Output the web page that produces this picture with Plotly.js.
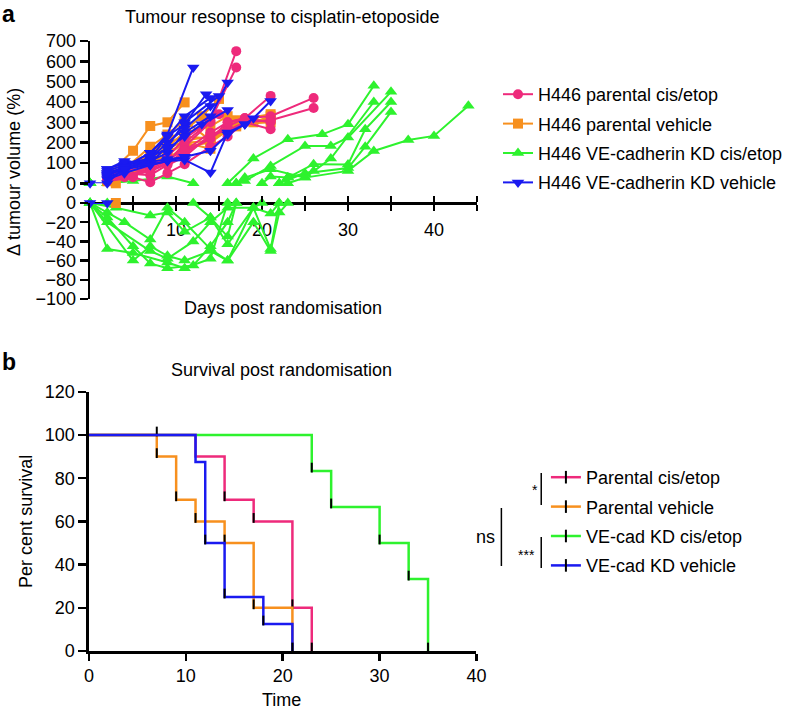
<!DOCTYPE html>
<html>
<head>
<meta charset="utf-8">
<script src="https://cdn.plot.ly/plotly-3.0.1.min.js"></script>
<style>
html, body { margin:0; padding:0; background:#ffffff; }
#chart { width:788px; height:710px; }
</style>
</head>
<body>
<div id="chart"></div>
<script>

/* ==========================================
   DATA - PANEL A (change in tumour volume, % per animal)
========================================== */

const parCisDays = [
    [2,4,7,9,11,14,17],
    [2,4,7,9,11,14,17],
    [2,4,7,9,11,14,16,18,21],
    [2,5,7,9,11,14,16,18,21],
    [2,4,7,9,11,14,16,18,21,26],
    [2,4,7,9,11,14,16,18,21,26],
    [2,4,7,9,11,15],
    [2,4,7,9,11,14,16,18,21]
];
const parCisVals = [
    [30,40,70,110,180,300,650],
    [20,50,90,130,220,310,570],
    [40,60,80,120,160,220,280,320,430],
    [10,30,5,50,94,180,230,300,266],
    [50,70,60,100,150,220,300,320,330,420],
    [30,50,40,90,130,240,260,300,310,370],
    [20,30,60,100,200,340],
    [20,40,60,95,160,250,300,320,300]
];

const parVehDays = [
    [2,5,7,9,11],
    [2,4,7,9,11,13,15],
    [3,5,7,9,11,14,17,21],
    [2,4,7,9,11,14,17,21],
    [2,4,7,9,11,14,17,21],
    [2,4,7,9,11,14,16],
    [2,4,7,9,11,14],
    [2,4,7,9,11,14],
    [2,4,7,9,11,14,17,19,21]
];
const parVehVals = [
    [40,160,282,300,398],
    [30,80,140,217,260,330,415],
    [0,60,100,150,200,208,300,315],
    [20,50,110,170,210,230,310,340],
    [10,40,80,120,180,200,290,300],
    [30,70,120,180,250,280,330],
    [50,80,100,140,200,170],
    [30,70,180,240,310,210],
    [20,60,130,200,230,220,280,300,330]
];

const kdCisDays = [
    [0,2,5,9,11,14,16,19,23,27,30,33],
    [0,2,5,7,9,12,14,16,17,18,21,25,28,30,35],
    [0,2,4,7,9,11,14,16,19,20,21,23,26,30,32,35],
    [0,3,7,9,11,14,16,17,18,21,25,28,33],
    [0,5,7,9,11,14,16,19,21,22,23,25,30,33,37,40,44],
    [0,2,7,9,12,14,16,19,21,22,25,30,32,35],
    [2,5,9,12,14,16,19,21,22,23,26]
];
const kdCisVals = [
    [0,-48,-52,-62,-68,-58,0,122,217,241,290,480],
    [0,-15,-45,-63,-68,-65,-45,-20,0,11,85,184,184,225,450],
    [0,-10,-20,-38,-5,-20,-48,-60,-5,0,33,28,94,93,266,400],
    [0,-5,-13,-10,-30,-15,-35,0,28,69,28,122,400],
    [0,-60,-45,-55,-60,-50,-60,-20,-50,-10,0,28,61,159,213,233,381],
    [0,-20,-50,-58,-40,-20,-5,-5,-11,0,50,75,180,351],
    [0,11,33,0,-15,-43,-5,-48,0,28,60]
];

const kdVehDays = [
    [0,2,4,7,9,12],
    [2,4,7,9,11,14,16],
    [2,4,7,9,11,14,16,18,19,21],
    [2,4,7,9,11,13.5],
    [2,4,7,9,11,15],
    [2,4,7,9,11,14],
    [2,4,7,9,11,14,16,18],
    [2,4,6,9,11],
    [2,4,7,9,11,14],
    [2,4,7,9,11,13,16]
];
const kdVehVals = [
    [0,0,80,150,240,570],
    [60,90,110,150,250,330,496],
    [40,70,90,110,115,53,250,290,320,405],
    [70,100,120,233,290,438],
    [50,80,100,180,300,430],
    [30,60,120,200,270,380],
    [20,50,90,110,130,160,240,290],
    [70,110,100,120,130],
    [40,80,150,230,330,420],
    [50,70,130,170,230,290,360]
];

const dayTicks = [5,10,15,20,25,30,35,40,45];
const dayTickText = ["","10","","20","","30","","40",""];


/* ==========================================
   DATA - PANEL B (Kaplan-Meier survival, %)
========================================== */

const survParCisT = [0,11,14,17,21,23];
const survParCisS = [100,90,70,60,20,0];
const survParVehT = [0,7,9,11,14,17,21];
const survParVehS = [100,90,70,60,50,20,0];
const survKdCisT = [0,23,25,30,33,35];
const survKdCisS = [100,83.3,66.7,50,33.3,0];
const survKdVehT = [0,11,12,14,18,21];
const survKdVehS = [100,87.5,50,25,12.5,0];

const markParCisT = [14,17,21,23];
const markParCisS = [70,60,20,0];
const markParVehT = [7,7,9,11,14,17,21];
const markParVehS = [100,90,70,60,50,20,0];
const markKdCisT = [23,25,30,33,35];
const markKdCisS = [83.3,66.7,50,33.3,0];
const markKdVehT = [12,14,18,21];
const markKdVehS = [50,25,12.5,0];


/* ==========================================
   STYLE
========================================== */

const PINK = "#ee2a7b";
const ORANGE = "#f7901e";
const GREEN = "#2ef22e";
const BLUE = "#1a1af0";
const FONT = "Liberation Sans, Arial, Helvetica, sans-serif";

function px(x){ return x/788; }
function py(y){ return 1 - y/710; }


/* ==========================================
   PANEL A TRACES
   positive part on y (x), negative part on y2 (x3)
========================================== */

function animalTraces(days, vals, colour, symbol, size, name, rank){

    let traces = [];

    days.forEach((d,i)=>{

        const v = vals[i];
        const top = v.map(val=> val >= 0 ? val : null);
        const bottom = v.map(val=> val <= 0 ? val : null);

        const common = {
            type:"scatter",
            mode:"lines+markers",
            x:d,
            line:{color:colour, width:2},
            marker:{color:colour, symbol:symbol, size:size},
            cliponaxis:false,
            hoverinfo:"skip",
            legendgroup:name,
            name:name,
            legendrank:rank
        };

        traces.push(Object.assign({}, common, {
            y:top,
            xaxis:"x",
            yaxis:"y",
            showlegend:i === 0,
            legend:"legend"
        }));

        if(v.some(val=> val <= 0)){
            traces.push(Object.assign({}, common, {
                y:bottom,
                xaxis:"x3",
                yaxis:"y2",
                showlegend:false
            }));
        }

    });

    return traces;
}


/* ==========================================
   PANEL B TRACES
========================================== */

function survivalTraces(t, s, mt, ms, colour, name, rank){

    return [
        {
            type:"scatter",
            mode:"lines",
            x:t,
            y:s,
            xaxis:"x2",
            yaxis:"y3",
            line:{color:colour, width:2.5, shape:"hv"},
            cliponaxis:false,
            hoverinfo:"skip",
            showlegend:false
        },
        {
            type:"scatter",
            mode:"markers",
            x:mt,
            y:ms.map(v=> v + 1.6),
            xaxis:"x2",
            yaxis:"y3",
            marker:{symbol:"line-ns", size:7, line:{color:"#000", width:2}},
            cliponaxis:false,
            hoverinfo:"skip",
            showlegend:false
        },
        {
            type:"scatter",
            mode:"lines+markers",
            x:[null],
            y:[null],
            xaxis:"x2",
            yaxis:"y3",
            name:name,
            legend:"legend2",
            legendgroup:"b_" + name,
            legendrank:rank,
            line:{color:colour, width:2.5},
            marker:{symbol:"line-ns", size:9, line:{color:"#000", width:2}}
        }
    ];
}


let data = [];

data = data.concat(animalTraces(kdCisDays, kdCisVals, GREEN, "triangle-up", 11, "H446 VE-cadherin KD cis/etop", 3));
data = data.concat(animalTraces(parVehDays, parVehVals, ORANGE, "square", 10, "H446 parental vehicle", 2));
data = data.concat(animalTraces(parCisDays, parCisVals, PINK, "circle", 10, "H446 parental cis/etop", 1));
data = data.concat(animalTraces(kdVehDays, kdVehVals, BLUE, "triangle-down", 11, "H446 VE-cadherin KD vehicle", 4));

data = data.concat(survivalTraces(survKdCisT, survKdCisS, markKdCisT, markKdCisS, GREEN, "VE-cad KD cis/etop", 3));
data = data.concat(survivalTraces(survParCisT, survParCisS, markParCisT, markParCisS, PINK, "Parental cis/etop", 1));
data = data.concat(survivalTraces(survParVehT, survParVehS, markParVehT, markParVehS, ORANGE, "Parental vehicle", 2));
data = data.concat(survivalTraces(survKdVehT, survKdVehS, markKdVehT, markKdVehS, BLUE, "VE-cad KD vehicle", 4));


/* ==========================================
   LAYOUT
========================================== */

const axisBase = {
    showgrid:false,
    zeroline:false,
    showline:true,
    linecolor:"#000",
    linewidth:2.5,
    ticks:"outside",
    tickcolor:"#000",
    tickwidth:2.5,
    ticklen:8,
    tickfont:{family:FONT, size:18, color:"#000"},
    fixedrange:true
};

function note(text, x, y, extra){
    return Object.assign({
        text:text,
        x:px(x),
        y:py(y),
        xref:"paper",
        yref:"paper",
        xanchor:"center",
        yanchor:"middle",
        showarrow:false
    }, extra || {});
}

const layout = {
    width:788,
    height:710,
    margin:{l:0, r:0, t:0, b:0},
    paper_bgcolor:"#fff",
    plot_bgcolor:"rgba(0,0,0,0)",
    font:{family:FONT, size:18, color:"#000"},
    showlegend:true,

    // day axis: line, downward ticks and labels
    xaxis:Object.assign({}, axisBase, {
        domain:[px(90.4), px(478.8)],
        range:[0,45],
        anchor:"free",
        position:py(203),
        side:"bottom",
        ticklen:6,
        ticklabelstandoff:4,
        tickvals:dayTicks,
        ticktext:dayTickText
    }),
    // day axis: upward ticks
    xaxis3:Object.assign({}, axisBase, {
        overlaying:"x",
        anchor:"y2",
        side:"top",
        range:[0,45],
        showline:false,
        ticklen:6,
        tickvals:dayTicks,
        showticklabels:false
    }),
    yaxis:Object.assign({}, axisBase, {
        domain:[py(183.3), py(41)],
        range:[0,700],
        dtick:100,
        anchor:"x"
    }),
    yaxis2:Object.assign({}, axisBase, {
        domain:[py(299), py(203)],
        range:[-100,0],
        dtick:20,
        anchor:"x"
    }),

    xaxis2:Object.assign({}, axisBase, {
        domain:[px(89.3), px(478.3)],
        range:[0,40],
        dtick:10,
        anchor:"y3",
        ticklen:7
    }),
    yaxis3:Object.assign({}, axisBase, {
        domain:[py(651), py(391.8)],
        range:[0,120],
        dtick:20,
        anchor:"x2"
    }),

    legend:{
        x:px(500), xanchor:"left",
        y:py(76), yanchor:"top",
        bgcolor:"rgba(0,0,0,0)",
        font:{family:FONT, size:18, color:"#000"},
        tracegroupgap:3,
        traceorder:"grouped"
    },
    legend2:{
        x:px(548), xanchor:"left",
        y:py(459), yanchor:"top",
        bgcolor:"rgba(0,0,0,0)",
        font:{family:FONT, size:18, color:"#000"},
        tracegroupgap:3,
        traceorder:"grouped"
    },

    annotations:[
        note("<b>a</b>", 9, 14, {font:{size:23}}),
        note("<b>b</b>", 9, 362, {font:{size:23}}),
        note("Tumour resopnse to cisplatin-etoposide", 284, 17),
        note("Days post randomisation", 284, 308),
        note("Δ tumour volume (%)", 14, 172, {textangle:-90}),
        note("Survival post randomisation", 283, 370),
        note("Time", 283, 700),
        note("Per cent survival", 26, 521, {textangle:-90}),
        note("*", 537, 490, {font:{size:14}}),
        note("***", 529, 555, {font:{size:14}}),
        note("ns", 487, 537)
    ],

    shapes:[
        {type:"line", xref:"paper", yref:"paper", x0:px(543.3), x1:px(543.3), y0:py(473), y1:py(505), line:{color:"#000", width:1.5}},
        {type:"line", xref:"paper", yref:"paper", x0:px(543.3), x1:px(543.3), y0:py(537), y1:py(568), line:{color:"#000", width:1.5}},
        {type:"line", xref:"paper", yref:"paper", x0:px(503.3), x1:px(503.3), y0:py(508), y1:py(566), line:{color:"#000", width:1.5}}
    ]
};

Plotly.newPlot("chart", data, layout, {displayModeBar:false, staticPlot:true});

</script>
</body>
</html>
